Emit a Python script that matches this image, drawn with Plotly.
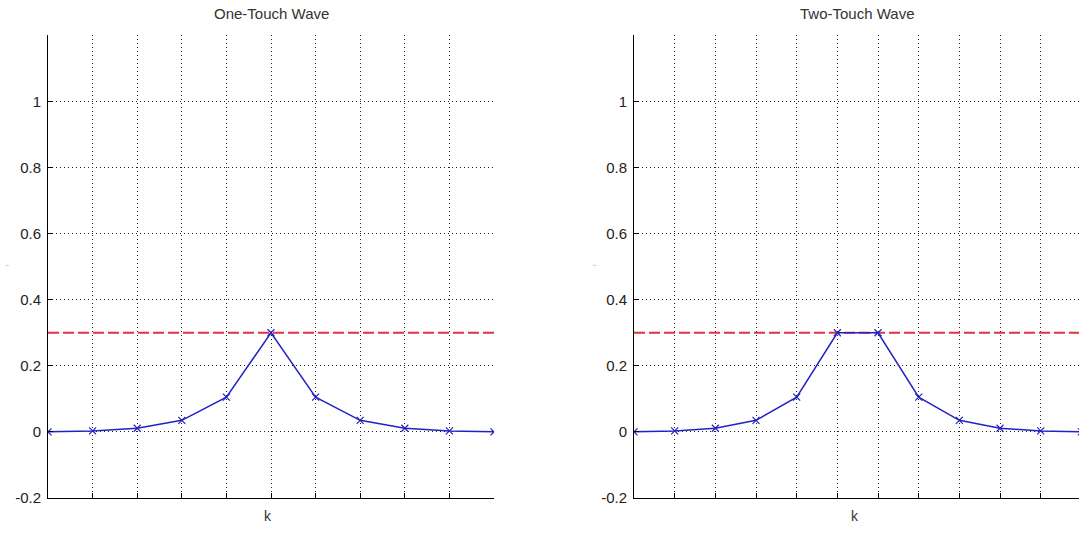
import plotly.graph_objects as go

# ---- data ----
k_one = [0, 1, 2, 3, 4, 5, 6, 7, 8, 9, 10]
r_one = [0.0, 0.003, 0.011, 0.035, 0.105, 0.3, 0.105, 0.035, 0.011, 0.003, 0.0]

k_two = [0, 1, 2, 3, 4, 5, 6, 7, 8, 9, 10, 11]
r_two = [0.0, 0.003, 0.011, 0.035, 0.105, 0.3, 0.3, 0.105, 0.035, 0.011, 0.003, 0.0]

threshold = 0.3
titles = ["One-Touch Wave", "Two-Touch Wave"]
x_label = "k"
y_label = "r"
y_ticks = [-0.2, 0, 0.2, 0.4, 0.6, 0.8, 1]
y_ticktext = ["-0.2", "0", "0.2", "0.4", "0.6", "0.8", "1"]

W, H = 1079, 535
FONT = "Liberation Sans, Arial, sans-serif"
BLUE = "#2222c4"
RED = "#e0343c"

fig = go.Figure()

panels = [
    dict(k=k_one, r=r_one, xa="x", ya="y"),
    dict(k=k_two, r=r_two, xa="x2", ya="y2"),
]

for p in panels:
    fig.add_trace(go.Scatter(
        x=[p["k"][0], p["k"][-1]], y=[threshold, threshold],
        mode="lines", line=dict(color=RED, width=1.8, dash="11px,4px"),
        xaxis=p["xa"], yaxis=p["ya"], showlegend=False, hoverinfo="skip"))
    fig.add_trace(go.Scatter(
        x=p["k"], y=p["r"], mode="lines+markers",
        line=dict(color=BLUE, width=1.5),
        marker=dict(symbol="x-thin", size=7, line=dict(color=BLUE, width=1.2)),
        xaxis=p["xa"], yaxis=p["ya"], showlegend=False))

y_dom = [(H - 505.5) / H, (H - 36) / H]
px_per_unit_right = 40.67

axis_common = dict(
    showline=True, linecolor="black", linewidth=1,
    ticks="inside", ticklen=5, tickcolor="black", tickwidth=1,
    showgrid=True, gridcolor="#222", gridwidth=1, griddash="1px,3px",
    zeroline=False, mirror=False,
)

fig.update_layout(
    width=W, height=H,
    margin=dict(l=0, r=0, t=0, b=0),
    paper_bgcolor="white", plot_bgcolor="white",
    font=dict(family=FONT, size=15, color="#222"),
    xaxis=dict(domain=[48 / W, 494 / W], range=[0, 10],
               tickvals=list(range(0, 11)), showticklabels=False,
               anchor="y", **axis_common),
    yaxis=dict(domain=y_dom, range=[-0.2, 1.2], tickvals=y_ticks,
               ticktext=y_ticktext, anchor="x", ticklabelstandoff=3,
               **axis_common),
    xaxis2=dict(domain=[634 / W, 1.0], range=[0, (1079 - 634) / px_per_unit_right],
                tickvals=list(range(0, 12)), showticklabels=False,
                anchor="y2", **axis_common),
    yaxis2=dict(domain=y_dom, range=[-0.2, 1.2], tickvals=y_ticks,
                ticktext=y_ticktext, anchor="x2", ticklabelstandoff=3,
                **axis_common),
)

annotations = []
for title, cx in zip(titles, [271, 857]):
    annotations.append(dict(text=title, x=cx / W, y=1 - 14 / H, xref="paper", yref="paper",
                            xanchor="center", yanchor="middle", showarrow=False,
                            font=dict(family=FONT, size=15, color="#333")))
for cx in [268, 855]:
    annotations.append(dict(text=x_label, x=cx / W, y=1 - 524 / H, xref="paper", yref="paper",
                            xanchor="center", yanchor="middle", showarrow=False,
                            font=dict(family=FONT, size=14, color="#333")))
for cx in [7, 594]:
    annotations.append(dict(text=y_label, x=cx / W, y=1 - 269 / H, xref="paper", yref="paper",
                            xanchor="center", yanchor="middle", showarrow=False, textangle=-90,
                            font=dict(family=FONT, size=6, color="#aaa")))
fig.update_layout(annotations=annotations)

fig.write_html("out.html")
